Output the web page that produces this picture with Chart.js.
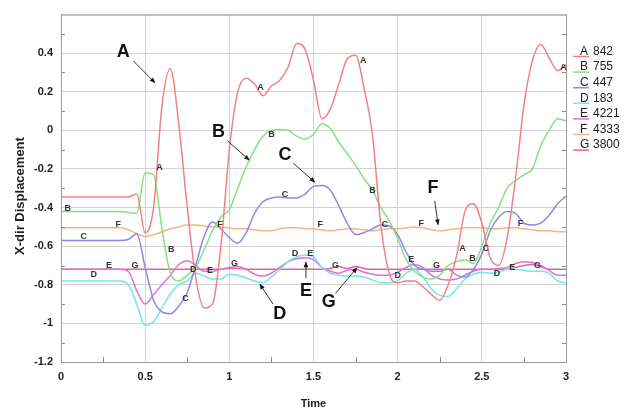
<!DOCTYPE html>
<html>
<head>
<meta charset="utf-8">
<script src="https://cdn.jsdelivr.net/npm/chart.js@4.4.0/dist/chart.umd.min.js"></script>
<style>
  html, body { margin: 0; padding: 0; background: #fff; }
  #wrap { width: 631px; height: 414px; }
</style>
</head>
<body>
<div id="wrap"><canvas id="chart"></canvas></div>
<script>
// sample times (s)
const times = [0,0.05,0.1,0.15,0.2,0.25,0.3,0.35,0.4,0.45,
  0.5,0.55,0.6,0.65,0.7,0.75,0.8,0.85,0.9,0.95,
  1,1.05,1.1,1.15,1.2,1.25,1.3,1.35,1.4,1.45,
  1.5,1.55,1.6,1.65,1.7,1.75,1.8,1.85,1.9,1.95,
  2,2.05,2.1,2.15,2.2,2.25,2.3,2.35,2.4,2.45,
  2.5,2.55,2.6,2.65,2.7,2.75,2.8,2.85,2.9,2.95,
  3];

// x-dir displacement per node
const nodeA = [-0.345,-0.345,-0.345,-0.345,-0.345,-0.345,-0.345,-0.345,-0.345,-0.33,
  -0.53,-0.4,0.13,0.32,0.03,-0.4,-0.76,-0.92,-0.9,-0.6,
  -0.1,0.2,0.27,0.24,0.18,0.23,0.26,0.33,0.45,0.42,
  0.26,0.06,0.11,0.24,0.37,0.39,0.22,-0.02,-0.49,-0.74,
  -0.79,-0.78,-0.78,-0.81,-0.85,-0.88,-0.8,-0.65,-0.42,-0.38,
  -0.48,-0.66,-0.7,-0.56,-0.25,0.13,0.36,0.445,0.375,0.31,
  0.34];
const nodeB = [-0.42,-0.42,-0.42,-0.42,-0.42,-0.42,-0.42,-0.42,-0.425,-0.43,
  -0.22,-0.23,-0.51,-0.74,-0.78,-0.75,-0.71,-0.62,-0.52,-0.45,
  -0.41,-0.3,-0.19,-0.1,-0.03,0.0,0.005,0.0,-0.03,-0.045,
  -0.02,0.035,0.01,-0.06,-0.12,-0.18,-0.25,-0.31,-0.4,-0.47,
  -0.56,-0.67,-0.73,-0.76,-0.77,-0.75,-0.7,-0.68,-0.67,-0.69,
  -0.6,-0.48,-0.4,-0.3,-0.26,-0.23,-0.2,-0.08,0.0,0.06,
  0.05];
const nodeC = [-0.57,-0.57,-0.57,-0.57,-0.57,-0.57,-0.57,-0.57,-0.565,-0.535,
  -0.71,-0.88,-0.94,-0.95,-0.91,-0.84,-0.7,-0.55,-0.475,-0.51,
  -0.555,-0.585,-0.53,-0.43,-0.37,-0.35,-0.345,-0.35,-0.35,-0.33,
  -0.29,-0.285,-0.31,-0.39,-0.48,-0.54,-0.53,-0.51,-0.49,-0.495,
  -0.54,-0.63,-0.7,-0.72,-0.73,-0.73,-0.72,-0.75,-0.76,-0.72,
  -0.64,-0.52,-0.45,-0.42,-0.43,-0.48,-0.49,-0.48,-0.44,-0.38,
  -0.34];
const nodeD = [-0.78,-0.78,-0.78,-0.78,-0.78,-0.78,-0.78,-0.78,-0.8,-0.9,
  -1.01,-0.99,-0.92,-0.845,-0.8,-0.78,-0.74,-0.755,-0.77,-0.77,
  -0.745,-0.75,-0.765,-0.78,-0.79,-0.76,-0.72,-0.68,-0.655,-0.645,
  -0.655,-0.71,-0.74,-0.75,-0.755,-0.755,-0.76,-0.775,-0.79,-0.79,
  -0.78,-0.74,-0.72,-0.76,-0.82,-0.855,-0.86,-0.82,-0.77,-0.745,
  -0.735,-0.74,-0.735,-0.72,-0.72,-0.725,-0.73,-0.73,-0.74,-0.78,
  -0.79];
const nodeE = [-0.72,-0.72,-0.72,-0.72,-0.72,-0.72,-0.72,-0.72,-0.73,-0.83,
  -0.9,-0.85,-0.8,-0.75,-0.695,-0.675,-0.7,-0.73,-0.73,-0.72,
  -0.71,-0.705,-0.72,-0.745,-0.755,-0.74,-0.71,-0.68,-0.665,-0.66,
  -0.67,-0.71,-0.73,-0.74,-0.725,-0.72,-0.735,-0.745,-0.75,-0.75,
  -0.735,-0.71,-0.695,-0.71,-0.75,-0.77,-0.775,-0.77,-0.75,-0.73,
  -0.72,-0.72,-0.715,-0.71,-0.69,-0.68,-0.685,-0.7,-0.725,-0.75,
  -0.75];
const nodeF = [-0.505,-0.505,-0.505,-0.505,-0.505,-0.505,-0.505,-0.505,-0.515,-0.535,
  -0.55,-0.54,-0.525,-0.51,-0.5,-0.49,-0.49,-0.495,-0.5,-0.5,
  -0.505,-0.51,-0.51,-0.515,-0.52,-0.52,-0.51,-0.505,-0.505,-0.51,
  -0.51,-0.515,-0.52,-0.515,-0.51,-0.51,-0.515,-0.52,-0.515,-0.51,
  -0.51,-0.505,-0.5,-0.505,-0.515,-0.52,-0.515,-0.51,-0.505,-0.505,
  -0.505,-0.51,-0.51,-0.505,-0.505,-0.51,-0.515,-0.52,-0.52,-0.525,
  -0.525];
const nodeG = [-0.72,-0.72,-0.72,-0.72,-0.72,-0.72,-0.72,-0.72,-0.72,-0.72,
  -0.72,-0.72,-0.72,-0.72,-0.72,-0.72,-0.72,-0.72,-0.72,-0.72,
  -0.715,-0.715,-0.72,-0.72,-0.72,-0.72,-0.72,-0.72,-0.72,-0.72,
  -0.72,-0.72,-0.715,-0.705,-0.715,-0.705,-0.715,-0.72,-0.72,-0.72,
  -0.72,-0.72,-0.72,-0.72,-0.72,-0.72,-0.72,-0.72,-0.72,-0.72,
  -0.72,-0.72,-0.72,-0.72,-0.71,-0.7,-0.695,-0.705,-0.72,-0.72,
  -0.72];

const letters = ["A", "B", "C", "D", "E", "F", "G"];
const nodeIds = ["842", "755", "447", "183", "4221", "4333", "3800"];
const seriesList = [nodeA, nodeB, nodeC, nodeD, nodeE, nodeF, nodeG];
const colours = ["#f28282", "#84e184", "#8c88ee", "#74e6ea", "#e070dc", "#f4b48a", "#e4688a"];

const yTicks = [-1.2, -1, -0.8, -0.6, -0.4, -0.2, 0, 0.2, 0.4];
const xTicks = [0, 0.5, 1, 1.5, 2, 2.5, 3];
const yMinor = [-1.1, -0.9, -0.7, -0.5, -0.3, -0.1, 0.1, 0.3, 0.5];
const xMinor = [0.25, 0.75, 1.25, 1.75, 2.25, 2.75];

// small letters sitting on the curves [letter, time, value]
const curveTags = [
  ["A",0.585,-0.19],["A",1.185,0.22],["A",1.795,0.36],["A",2.385,-0.61],["A",2.985,0.325],
  ["B",0.04,-0.405],["B",0.655,-0.615],["B",1.25,-0.02],["B",1.85,-0.31],["B",2.445,-0.665],
  ["C",0.135,-0.55],["C",0.74,-0.87],["C",1.33,-0.33],["C",1.925,-0.49],["C",2.525,-0.61],
  ["D",0.195,-0.745],["D",0.785,-0.72],["D",1.39,-0.64],["D",2.0,-0.75],["D",2.59,-0.74],
  ["E",0.285,-0.70],["E",0.885,-0.725],["E",1.48,-0.64],["E",2.08,-0.67],["E",2.68,-0.71],
  ["F",0.34,-0.49],["F",0.945,-0.49],["F",1.54,-0.49],["F",2.14,-0.48],["F",2.73,-0.48],
  ["G",0.44,-0.70],["G",1.03,-0.69],["G",1.63,-0.70],["G",2.23,-0.70],["G",2.83,-0.70]
];

// big callouts: letter, text pos, arrow start, arrow end
const callouts = [
  ["A", [0.37, 0.405], [0.43, 0.36], [0.56, 0.245]],
  ["B", [0.935, -0.01], [0.99, -0.055], [1.12, -0.155]],
  ["C", [1.33, -0.13], [1.38, -0.17], [1.51, -0.27]],
  ["D", [1.30, -0.95], [1.26, -0.9], [1.18, -0.795]],
  ["E", [1.455, -0.83], [1.455, -0.765], [1.455, -0.68]],
  ["F", [2.21, -0.30], [2.22, -0.365], [2.24, -0.49]],
  ["G", [1.59, -0.89], [1.63, -0.845], [1.76, -0.71]]
];

const FONT = '"Liberation Sans", Arial, sans-serif';

function drawArrow(ctx, x1, y1, x2, y2) {
  const ang = Math.atan2(y2 - y1, x2 - x1);
  ctx.beginPath();
  ctx.moveTo(x1, y1);
  ctx.lineTo(x2, y2);
  ctx.stroke();
  ctx.beginPath();
  ctx.moveTo(x2, y2);
  ctx.lineTo(x2 - 6 * Math.cos(ang - 0.4), y2 - 6 * Math.sin(ang - 0.4));
  ctx.lineTo(x2 - 6 * Math.cos(ang + 0.4), y2 - 6 * Math.sin(ang + 0.4));
  ctx.closePath();
  ctx.fill();
}

const decorPlugin = {
  id: "decor",
  afterDatasetsDraw(chart) {
    const { ctx, chartArea: a, scales: { x, y } } = chart;
    ctx.save();

    // frame
    ctx.strokeStyle = "#9c9c9c";
    ctx.lineWidth = 1;
    ctx.strokeRect(a.left + 0.5, a.top + 0.5, a.right - a.left, a.bottom - a.top);

    // minor tick marks inside the frame
    ctx.strokeStyle = "#8c8c8c";
    ctx.beginPath();
    yMinor.forEach(v => {
      const py = Math.round(y.getPixelForValue(v)) + 0.5;
      ctx.moveTo(a.left, py); ctx.lineTo(a.left + 4, py);
      ctx.moveTo(a.right, py); ctx.lineTo(a.right - 4, py);
    });
    xMinor.forEach(v => {
      const px = Math.round(x.getPixelForValue(v)) + 0.5;
      ctx.moveTo(px, a.bottom); ctx.lineTo(px, a.bottom - 5);
    });
    ctx.stroke();

    // y axis title
    ctx.save();
    ctx.translate(20, 196);
    ctx.rotate(-Math.PI / 2);
    ctx.fillStyle = "#222";
    ctx.font = "bold 13px " + FONT;
    ctx.textAlign = "center";
    ctx.textBaseline = "middle";
    ctx.fillText("X-dir Displacement", 0, 0);
    ctx.restore();

    // letters along the curves
    ctx.fillStyle = "#333";
    ctx.font = "bold 9px " + FONT;
    ctx.textAlign = "center";
    ctx.textBaseline = "middle";
    curveTags.forEach(t => {
      ctx.fillText(t[0], x.getPixelForValue(t[1]), y.getPixelForValue(t[2]));
    });

    // big callouts with arrows
    ctx.font = "bold 18px " + FONT;
    ctx.fillStyle = "#111";
    ctx.strokeStyle = "#333";
    callouts.forEach(c => {
      ctx.fillText(c[0], x.getPixelForValue(c[1][0]), y.getPixelForValue(c[1][1]));
      drawArrow(ctx,
        x.getPixelForValue(c[2][0]), y.getPixelForValue(c[2][1]),
        x.getPixelForValue(c[3][0]), y.getPixelForValue(c[3][1]));
    });

    // legend on the right
    ctx.font = "12px " + FONT;
    ctx.textAlign = "left";
    letters.forEach((l, i) => {
      const ly = 51.5 + i * 15.6;
      ctx.strokeStyle = colours[i];
      ctx.lineWidth = 1.5;
      ctx.beginPath();
      ctx.moveTo(573, ly + 5);
      ctx.lineTo(589, ly + 5);
      ctx.stroke();
      ctx.fillStyle = "#222";
      ctx.fillText(l, 580, ly);
      ctx.fillText(nodeIds[i], 593, ly);
    });

    ctx.restore();
  }
};

const datasets = seriesList.map((vals, i) => ({
  label: letters[i] + " " + nodeIds[i],
  data: times.map((t, k) => ({ x: t, y: vals[k] })),
  borderColor: colours[i],
  backgroundColor: colours[i],
  borderWidth: 1.5,
  pointRadius: 0,
  cubicInterpolationMode: "monotone",
  fill: false
}));

new Chart(document.getElementById("chart"), {
  type: "line",
  data: { datasets },
  options: {
    responsive: true,
    maintainAspectRatio: false,
    animation: false,
    layout: { padding: { top: 8, right: 65, left: 0, bottom: 0 } },
    plugins: {
      legend: { display: false },
      tooltip: { enabled: false }
    },
    scales: {
      x: {
        type: "linear",
        min: 0,
        max: 3,
        afterFit: s => { s.height = 52; },
        afterBuildTicks: s => { s.ticks = xTicks.map(v => ({ value: v })); },
        ticks: {
          padding: 8,
          color: "#222",
          font: { family: FONT, size: 11, weight: "bold" },
          callback: v => String(v)
        },
        grid: { color: "#d2d2d2", drawTicks: false },
        border: { color: "#9c9c9c" },
        title: {
          display: true,
          text: "Time",
          color: "#222",
          font: { family: FONT, size: 11, weight: "bold" },
          padding: { top: 0, bottom: 3 }
        }
      },
      y: {
        min: -1.2,
        max: 0.6,
        afterFit: s => { s.width = 61; },
        afterBuildTicks: s => { s.ticks = yTicks.map(v => ({ value: v })).concat([{ value: 0.6 }]); },
        ticks: {
          padding: 8,
          color: "#222",
          font: { family: FONT, size: 11, weight: "bold" },
          callback: v => (v > 0.5 ? "" : String(v))
        },
        grid: { color: "#d2d2d2", drawTicks: false },
        border: { color: "#9c9c9c" }
      }
    }
  },
  plugins: [decorPlugin]
});
</script>
</body>
</html>
